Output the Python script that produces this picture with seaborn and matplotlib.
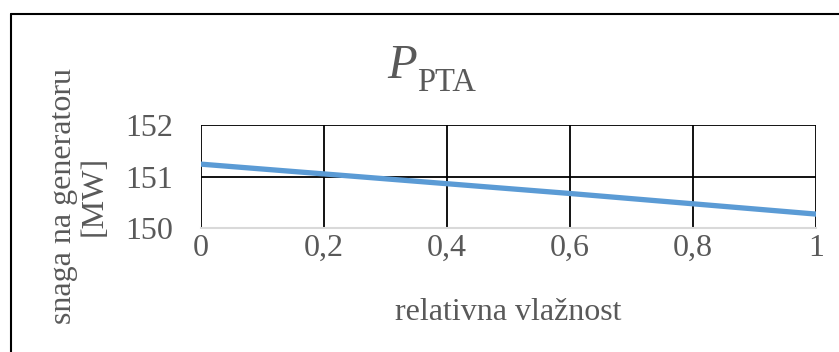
import numpy as np
import pandas as pd
import matplotlib.pyplot as plt
import seaborn as sns
from matplotlib.lines import Line2D

#-----------data--------------------------------
vlaznost = [0, 0.2, 0.4, 0.6, 0.8, 1]
snaga = [151.24, 151.05, 150.86, 150.67, 150.47, 150.27]
x_ticks = [0, 0.2, 0.4, 0.6, 0.8, 1]
x_labels = ['0', '0,2', '0,4', '0,6', '0,8', '1']
y_ticks = [150, 151, 152]

df = pd.DataFrame({'vlaznost': vlaznost, 'snaga': snaga})

sns.set_style('white')
plt.rcParams['font.family'] = ['Liberation Serif', 'DejaVu Serif']
grey = '#595959'

W, H = 839, 352
fig = plt.figure(figsize=(W / 100, H / 100), dpi=100)
ax = fig.add_axes([201 / W, 1 - 228 / H, (816 - 201) / W, (228 - 125) / H])

sns.lineplot(data=df, x='vlaznost', y='snaga', color='#5B9BD5', linewidth=3.8, ax=ax)

ax.set_xlim(0, 1)
ax.set_ylim(150, 152)
ax.set_xticks(x_ticks)
ax.set_xticklabels(x_labels)
ax.set_yticks(y_ticks)
ax.tick_params(length=0, labelsize=23, colors=grey)
ax.tick_params(axis='x', pad=4.5)
ax.tick_params(axis='y', pad=20)
ax.grid(True, color='black', linewidth=1.3)
ax.set_axisbelow(True)
for s in ['top', 'left', 'right']:
    ax.spines[s].set_visible(False)
ax.spines['bottom'].set_color('#d9d9d9')
ax.spines['bottom'].set_linewidth(1.5)
ax.spines['bottom'].set_zorder(3)
ax.set_xlabel('')
ax.set_ylabel('')

#-----------texts-------------
fig.text(508 / W, 1 - 312 / H, 'relativna vlažnost', ha='center', va='center',
         fontsize=23, color=grey)
fig.text(79 / W, 1 - 196 / H, 'snaga na generatoru\n[MW]', ha='center', va='center',
         rotation=90, fontsize=23, color=grey, linespacing=1.1)
fig.text(387 / W, 1 - 78 / H, 'P', ha='left', va='baseline', fontsize=35,
         fontstyle='italic', color=grey)
fig.text(417 / W, 1 - 91 / H, 'PTA', ha='left', va='baseline', fontsize=23.5, color=grey)

# chart border (only top and left visible in the crop)
fig.add_artist(Line2D([11 / W, 1], [1 - 14 / H, 1 - 14 / H], color='black', linewidth=1.5))
fig.add_artist(Line2D([11 / W, 11 / W], [0, 1 - 14 / H], color='black', linewidth=1.5))

fig.savefig('out.png', dpi=100)
